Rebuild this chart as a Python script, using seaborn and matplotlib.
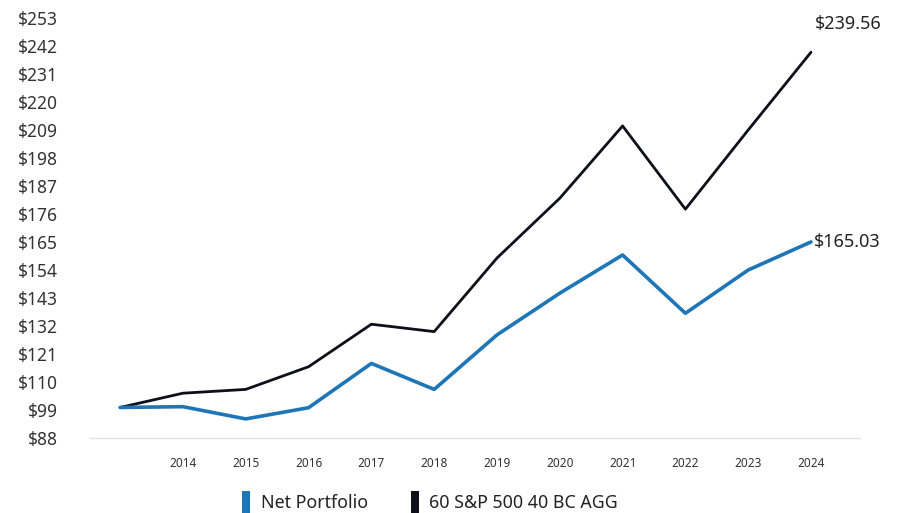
import matplotlib
matplotlib.use("Agg")
import matplotlib.pyplot as plt
import seaborn as sns
import pandas as pd
from matplotlib.patches import Patch

years = [2013, 2014, 2015, 2016, 2017, 2018, 2019, 2020, 2021, 2022, 2023, 2024]
net_portfolio = [100.0, 100.3, 95.5, 99.9, 117.3, 107.1, 128.5, 144.9, 159.9, 137.0, 154.0, 165.03]
benchmark = [100.0, 105.6, 107.1, 116.0, 132.7, 129.8, 158.7, 182.2, 210.6, 177.9, 209.0, 239.56]
series_names = ["Net Portfolio", "60 S&P 500 40 BC AGG"]
xtick_years = [2014, 2015, 2016, 2017, 2018, 2019, 2020, 2021, 2022, 2023, 2024]
ytick_values = [88, 99, 110, 121, 132, 143, 154, 165, 176, 187, 198, 209, 220, 231, 242, 253]

sns.set_theme(style="white")
plt.rcParams["font.family"] = ["Noto Sans", "DejaVu Sans"]

df = pd.DataFrame({
    "year": years * 2,
    "value": net_portfolio + benchmark,
    "series": [series_names[0]] * len(years) + [series_names[1]] * len(years),
})

colors = {series_names[0]: "#1f76b6", series_names[1]: "#0d0f1a"}

fig = plt.figure(figsize=(9.07, 5.13), dpi=100)
ax = fig.add_axes([90 / 907, 1 - 438 / 513, 770 / 907, 420 / 513])

sns.lineplot(data=df[df.series == series_names[1]], x="year", y="value",
             color=colors[series_names[1]], lw=2.0, ax=ax, legend=False)
sns.lineplot(data=df[df.series == series_names[0]], x="year", y="value",
             color=colors[series_names[0]], lw=2.6, ax=ax, legend=False)

ax.set_xlim(2012.52, 2024.78)
ax.set_ylim(88, 253)
ax.set_xticks(xtick_years)
ax.set_xticklabels([str(y) for y in xtick_years], fontsize=8.5, color="#333333")
ax.set_yticks(ytick_values)
ax.set_yticklabels([f"${v}" for v in ytick_values], fontsize=12.5, color="#333333")
ax.tick_params(axis="x", length=0, pad=14)
ax.tick_params(axis="y", length=0, pad=23)
ax.set_xlabel("")
ax.set_ylabel("")
for s in ["top", "right", "left"]:
    ax.spines[s].set_visible(False)
ax.spines["bottom"].set_color("#e3e3e3")
ax.spines["bottom"].set_linewidth(1.0)

ax.annotate(f"${benchmark[-1]:.2f}", xy=(years[-1], benchmark[-1]), xytext=(3, 14),
            textcoords="offset points", fontsize=13, color="#222222", ha="left", va="bottom")
ax.annotate(f"${net_portfolio[-1]:.2f}", xy=(years[-1], net_portfolio[-1]), xytext=(2, 0),
            textcoords="offset points", fontsize=13, color="#222222", ha="left", va="center")

handles = [Patch(facecolor=colors[n], edgecolor="none") for n in series_names]
fig.legend(handles, series_names, loc="center", bbox_to_anchor=(430 / 907, 1 - 502 / 513),
           ncol=2, frameon=False, fontsize=12.8, handlelength=0.45, handleheight=1.5,
           handletextpad=0.6, columnspacing=2.4, labelcolor="#222222")

fig.savefig("out.png", dpi=100, facecolor="white")
